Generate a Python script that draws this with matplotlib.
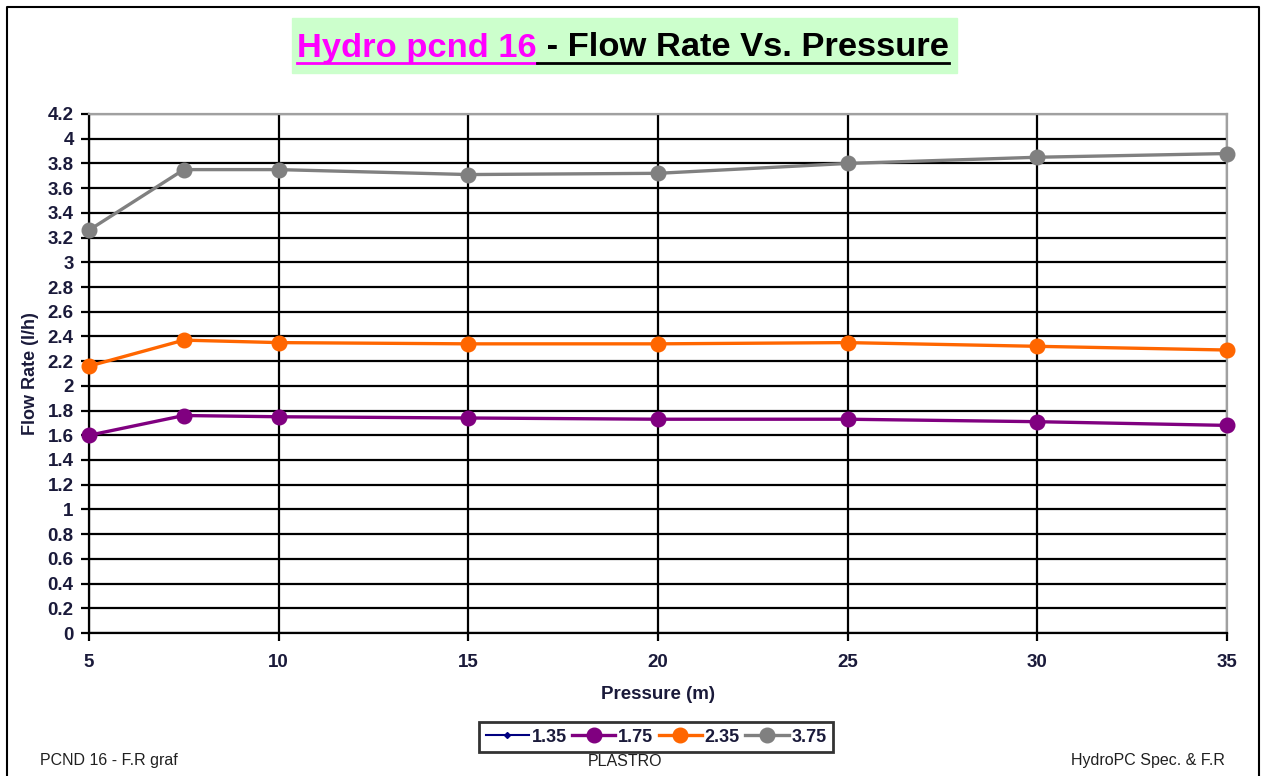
import numpy as np
import matplotlib.pyplot as plt
from matplotlib.lines import Line2D

plt.rcParams['font.family'] = ['Liberation Sans', 'DejaVu Sans']

# data
pressure = [5, 7.5, 10, 15, 20, 25, 30, 35]
flow_135 = []  # series shown in the legend only
flow_175 = [1.60, 1.76, 1.75, 1.74, 1.73, 1.73, 1.71, 1.68]
flow_235 = [2.16, 2.37, 2.35, 2.34, 2.34, 2.35, 2.32, 2.29]
flow_375 = [3.26, 3.75, 3.75, 3.71, 3.72, 3.80, 3.85, 3.88]
series_names = ['1.35', '1.75', '2.35', '3.75']
series_colors = ['#000080', '#800080', '#ff6600', '#808080']
x_ticks = [5, 10, 15, 20, 25, 30, 35]
y_ticks = np.round(np.arange(0, 4.21, 0.2), 1)

W, H = 1263, 776
fig = plt.figure(figsize=(W / 100, H / 100), dpi=100)
ax = fig.add_axes([89 / W, 1 - 633 / H, (1227 - 89) / W, (633 - 114) / H])

# outer page frame
fig.add_artist(Line2D([7 / W, 7 / W, 1259 / W, 1259 / W],
                      [0, 1 - 7 / H, 1 - 7 / H, 0],
                      color='black', lw=1.5, transform=fig.transFigure))

ax.plot(pressure[:len(flow_135)], flow_135, color=series_colors[0], lw=1.5,
        marker='D', ms=3, label=series_names[0])
for vals, name, col in zip([flow_175, flow_235, flow_375], series_names[1:],
                           series_colors[1:]):
    ax.plot(pressure, vals, color=col, lw=2.4, marker='o', ms=10.5,
            label=name, zorder=3, clip_on=False)

ax.set_xlim(5, 35)
ax.set_ylim(0, 4.2)
ax.set_xticks(x_ticks)
ax.set_yticks(y_ticks)
ax.set_yticklabels([f'{v:g}' for v in y_ticks])
ax.grid(True, color='black', lw=1.6)
ax.set_axisbelow(True)
for s in ['top', 'right']:
    ax.spines[s].set_color('#a0a0a0')
    ax.spines[s].set_linewidth(1.6)
for s in ['left', 'bottom']:
    ax.spines[s].set_linewidth(1.6)
ax.tick_params(direction='out', length=6, width=1.6, labelsize=13.5,
               labelcolor='#1a1a3a', pad=5)
for lab in ax.get_xticklabels() + ax.get_yticklabels():
    lab.set_fontweight('bold')
ax.tick_params(axis='x', pad=9)

ax.set_xlabel('Pressure (m)', fontsize=13.5, fontweight='bold', labelpad=11,
              color='#1a1a3a')
ax.set_ylabel('Flow Rate (l/h)', fontsize=13, fontweight='bold', labelpad=6,
              color='#1a1a3a')

leg = ax.legend(loc='center', bbox_to_anchor=(656 / W, 1 - 737 / H),
                bbox_transform=fig.transFigure, ncol=4, frameon=True,
                fancybox=False, edgecolor='black', fontsize=13,
                handlelength=2.4, handletextpad=0.15, columnspacing=0.3,
                borderpad=0.35, borderaxespad=0)
leg.get_frame().set_linewidth(2)
for t in leg.get_texts():
    t.set_fontweight('bold')
    t.set_color('#1a1a3a')

# title with green box and underlines
fig.patches.append(plt.Rectangle((292 / W, 1 - 73 / H), (957 - 292) / W,
                                 (73 - 18) / H, transform=fig.transFigure,
                                 color='#ccffcc', zorder=0))
t1 = fig.text(297 / W, 1 - 48 / H, 'Hydro pcnd 16', color='#ff00ff',
              fontsize=24.8, fontweight='bold', va='center', ha='left')
fig.canvas.draw()
r = fig.canvas.get_renderer()
bb1 = t1.get_window_extent(r)
t2 = fig.text(bb1.x1 / W, 1 - 48 / H, ' - Flow Rate Vs. Pressure',
              color='black', fontsize=24.8, fontweight='bold', va='center',
              ha='left')
fig.canvas.draw()
bb2 = t2.get_window_extent(r)
uy = (bb1.y0 + 1) / H
fig.add_artist(Line2D([bb1.x0 / W, bb1.x1 / W], [uy, uy], color='#ff00ff',
                      lw=2, transform=fig.transFigure))
fig.add_artist(Line2D([bb1.x1 / W, bb2.x1 / W], [uy, uy],
                      color='black', lw=2, transform=fig.transFigure))

# footer notes
fig.text(40 / W, 1 - 761 / H, 'PCND 16 - F.R graf', fontsize=11.5,
         va='center', ha='left', color='#202020')
fig.text(625 / W, 1 - 761 / H, 'PLASTRO', fontsize=11.5, va='center',
         ha='center', color='#202020')
fig.text(1225 / W, 1 - 761 / H, 'HydroPC Spec. & F.R', fontsize=11.5,
         va='center', ha='right', color='#202020')

fig.savefig('out.png', dpi=100)
